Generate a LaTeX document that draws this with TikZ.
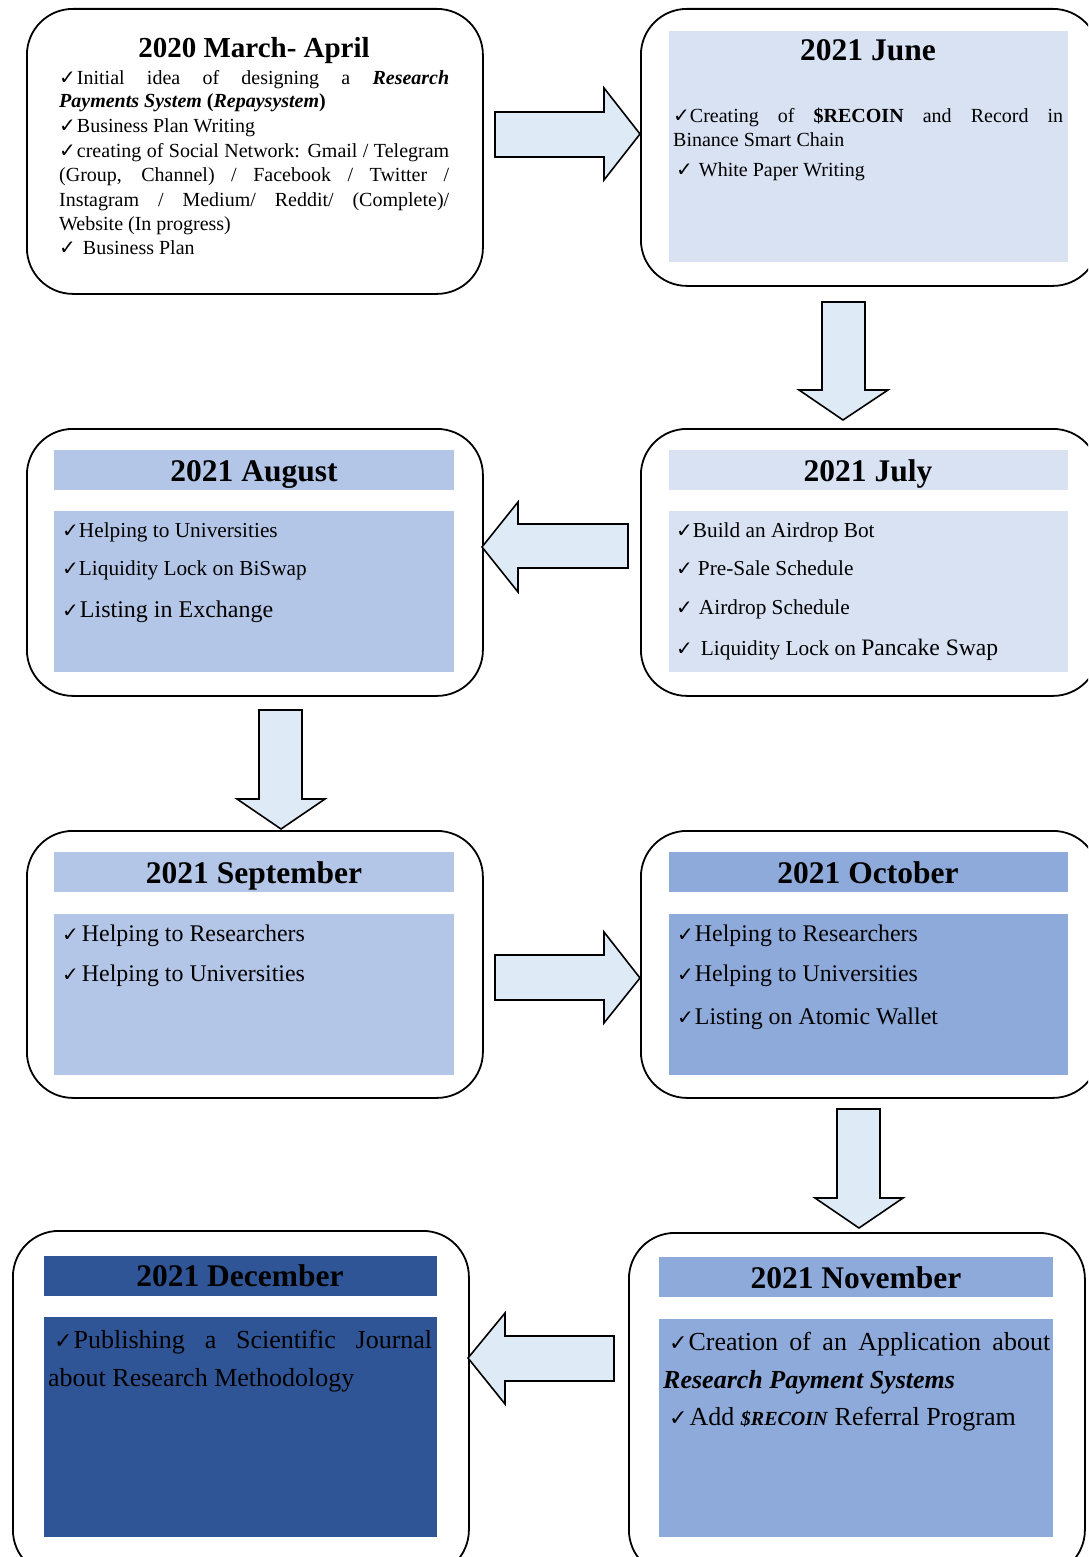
\documentclass[tikz,border=0pt]{standalone}
\usepackage{fontspec}
\setmainfont{Liberation Serif}
\newfontfamily\dejavu{DejaVu Sans}
\definecolor{lite}{HTML}{D9E2F3}
\definecolor{midc}{HTML}{B4C6E7}
\definecolor{medc}{HTML}{8EAADB}
\definecolor{darkc}{HTML}{2F5597}
\definecolor{arrowc}{HTML}{DEEAF6}
\newcommand\hck{{\dejavu\bfseries ✓}}
\newcommand\ck[1][20]{{\dejavu\fontsize{#1}{#1}\selectfont ✓}}
\newcommand\fs[1]{\fontsize{#1}{#1}\selectfont}
\tikzset{
  box/.style={draw=black, line width=1.8pt, rounded corners=46pt, fill=white, anchor=north west, inner sep=0pt},
  blk/.style={draw=black, line width=1.6pt, fill=arrowc, line join=miter},
  ttl/.style={anchor=base, inner sep=0pt, font=\bfseries\fs{31.5}},
  tx/.style={anchor=base west, inner sep=0pt},
}
\begin{document}
\begin{tikzpicture}[x=1pt,y=-1pt]
\useasboundingbox (0,0) rectangle (1088,1557);
\clip (0,0) rectangle (1088,1557);

% ---- boxes
\node[box, minimum width=456pt, minimum height=285pt] (b1) at (26,8) {};
\node[box, minimum width=458pt, minimum height=277pt] (b2) at (640,8) {};
\node[box, minimum width=456pt, minimum height=267pt] (b3) at (26,428) {};
\node[box, minimum width=458pt, minimum height=267pt] (b4) at (640,428) {};
\node[box, minimum width=456pt, minimum height=267pt] (b5) at (26,830) {};
\node[box, minimum width=458pt, minimum height=267pt] (b6) at (640,830) {};
\node[box, minimum width=456pt, minimum height=345pt] (b7) at (12,1230) {};
\node[box, minimum width=456pt, minimum height=343pt] (b8) at (628,1232) {};

% ---- fills
\fill[lite] (669,31) rectangle (1068,262);
\fill[midc] (54,450) rectangle (454,490);
\fill[midc] (54,511) rectangle (454,672);
\fill[lite] (669,450) rectangle (1068,490);
\fill[lite] (669,511) rectangle (1068,672);
\fill[midc] (54,852) rectangle (454,892);
\fill[midc] (54,914) rectangle (454,1075);
\fill[medc] (669,852) rectangle (1068,892);
\fill[medc] (669,914) rectangle (1068,1075);
\fill[darkc] (44,1256) rectangle (437,1296);
\fill[darkc] (44,1317) rectangle (437,1537);
\fill[medc] (659,1257) rectangle (1053,1297);
\fill[medc] (659,1319) rectangle (1053,1537);

% ---- block arrows
\draw[blk] (495,112) -- (604,112) -- (604,88) -- (640,134) -- (604,180) -- (604,157) -- (495,157) -- cycle;
\draw[blk] (822,302) -- (865,302) -- (865,390) -- (888,390) -- (843,420) -- (799,390) -- (822,390) -- cycle;
\draw[blk] (628,524) -- (518,524) -- (518,502) -- (482,547) -- (518,592) -- (518,568) -- (628,568) -- cycle;
\draw[blk] (259,710) -- (302,710) -- (302,799) -- (325,799) -- (281,829) -- (237,799) -- (259,799) -- cycle;
\draw[blk] (495,955) -- (604,955) -- (604,932) -- (640,978) -- (604,1023) -- (604,1000) -- (495,1000) -- cycle;
\draw[blk] (837,1109) -- (880,1109) -- (880,1198) -- (903,1198) -- (859,1228) -- (815,1198) -- (837,1198) -- cycle;
\draw[blk] (614,1336) -- (505,1336) -- (505,1313) -- (468,1358) -- (505,1404) -- (505,1381) -- (614,1381) -- cycle;

% ---- box 1
\node[ttl, font=\bfseries\fs{29}] (t1) at (254,58) {2020 March- April};
\begin{scope}[every node/.append style={tx, font=\fs{20}}]
\node (l11) at (59,85) {\makebox[390pt][s]{\hck\hspace{1pt}Initial idea of designing a \textbf{\textit{Research}}}};
\node (l12) at (59,108) {\textbf{\textit{Payments System}} \textbf{(\textit{Repaysystem})}};
\node (l13) at (59,133) {\hck\hspace{1pt}Business Plan Writing};
\node (l14) at (59,158) {\makebox[390pt][s]{\hck\hspace{1pt}creating of Social Network: Gmail / Telegram}};
\node (l15) at (59,182) {\makebox[390pt][s]{(Group, Channel) / Facebook / Twitter /}};
\node (l16) at (59,206) {\makebox[390pt][s]{Instagram / Medium/ Reddit/ (Complete)/}};
\node (l17) at (59,230) {Website (In progress)};
\node (l18) at (59,254) {\hck\hspace{7pt}Business Plan};
\end{scope}

% ---- June
\node[ttl] (t2) at (868,61) {2021 June};
\begin{scope}[every node/.append style={tx, font=\fs{20}}]
\node (l21) at (673,123) {\makebox[390pt][s]{\hck Creating of \textbf{\$RECOIN} and Record in}};
\node (l22) at (673,147) {Binance Smart Chain};
\node (l23) at (676,177) {\ck\hspace{6pt}White Paper Writing};
\end{scope}

% ---- August
\node[ttl] (t3) at (254,481) {2021 August};
\begin{scope}[every node/.append style={tx, font=\fs{21.3}}]
\node (l31) at (62,537) {\ck Helping to Universities};
\node (l32) at (62,575) {\ck Liquidity Lock on BiSwap};
\node[font=\fs{24}] (l33) at (62,617) {\ck\hspace{1pt}Listing in Exchange};
\end{scope}

% ---- July
\node[ttl] (t4) at (868,481) {2021 July};
\begin{scope}[every node/.append style={tx, font=\fs{21.3}}]
\node (l41) at (676,537) {\ck Build an Airdrop Bot};
\node (l42) at (676,575) {\ck\hspace{5pt}Pre-Sale Schedule};
\node (l43) at (676,614) {\ck\hspace{6pt}Airdrop Schedule};
\node (l44) at (676,655) {\ck\hspace{8pt}Liquidity Lock on {\fs{23.6}Pancake Swap}};
\end{scope}

% ---- September
\node[ttl] (t5) at (254,883) {2021 September};
\begin{scope}[every node/.append style={tx, font=\fs{23.9}}]
\node (l51) at (62,941) {\ck\hspace{3pt}Helping to Researchers};
\node (l52) at (62,981) {\ck\hspace{3pt}Helping to Universities};
\end{scope}

% ---- October
\node[ttl] (t6) at (868,883) {2021 October};
\begin{scope}[every node/.append style={tx, font=\fs{23.9}}]
\node (l61) at (677,941) {\ck\hspace{1pt}Helping to Researchers};
\node (l62) at (677,981) {\ck\hspace{1pt}Helping to Universities};
\node (l63) at (677,1024) {\ck\hspace{1pt}Listing on Atomic Wallet};
\end{scope}

% ---- December
\node[ttl] (t7) at (240,1286) {2021 December};
\begin{scope}[every node/.append style={tx, font=\fs{26}}]
\node (l71) at (54,1348) {\makebox[378pt][s]{\ck[22]\hspace{1pt}Publishing a Scientific Journal}};
\node (l72) at (48,1386) {about Research Methodology};
\end{scope}

% ---- November
\node[ttl] (t8) at (856,1288) {2021 November};
\begin{scope}[every node/.append style={tx, font=\fs{26}}]
\node (l81) at (669,1350) {\makebox[381pt][s]{\ck[22]\hspace{1pt}Creation of an Application about}};
\node (l82) at (663,1388) {\textbf{\textit{Research Payment Systems}}};
\node (l83) at (669,1425) {\ck[22]\hspace{2pt}Add {\fs{20}\textbf{\textit{\$RECOIN}}} Referral Program};
\end{scope}
\end{tikzpicture}
\end{document}
